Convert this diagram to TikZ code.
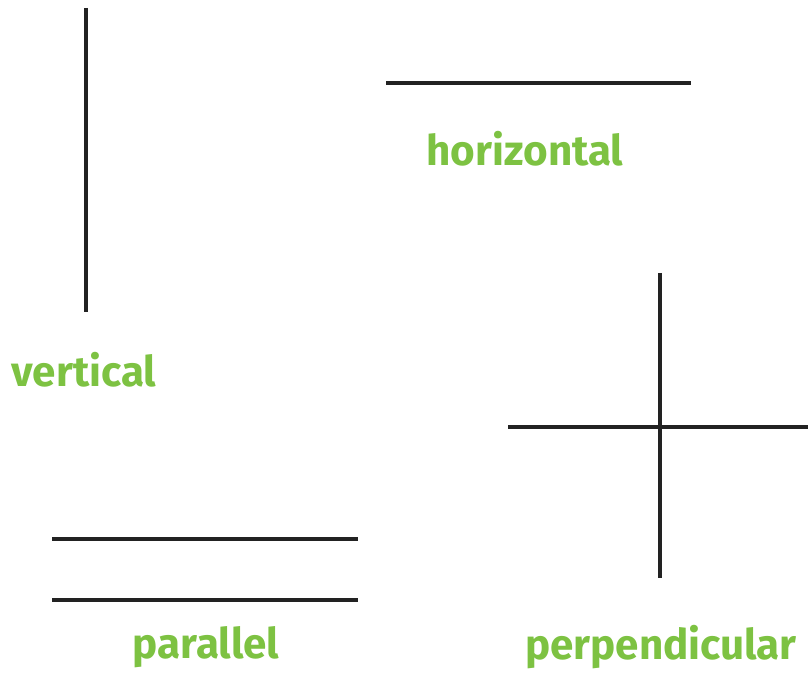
\documentclass[tikz,border=0pt]{standalone}
\usepackage{fontspec}
\setmainfont{Fira Sans}
\usepackage{tikz}
\definecolor{wordgreen}{HTML}{7DC242}
\definecolor{linegrey}{HTML}{222222}

\begin{document}
\begin{tikzpicture}[
  x=0.025cm, y=-0.025cm,
  ln/.style={draw=linegrey, line width=2.2pt},
  word/.style={text=wordgreen, font=\fontsize{30}{34}\selectfont\bfseries, inner sep=0pt},
]
\useasboundingbox (0,0) rectangle (808,675);
% vertical
\draw[ln] (86,8) -- (86,312);
\node[word] (vert) at (84,370) {vertical};
% horizontal
\draw[ln] (386,83) -- (691,83);
\node[word] (horiz) at (525,149) {horizontal};
% parallel
\draw[ln] (52,539) -- (358,539);
\draw[ln] (52,600) -- (358,600);
\node[word] (para) at (206,647) {parallel};
% perpendicular
\draw[ln] (660,273) -- (660,578);
\draw[ln] (508,427) -- (808,427);
\node[word] (perp) at (661,647) {perpendicular};
\end{tikzpicture}
\end{document}
